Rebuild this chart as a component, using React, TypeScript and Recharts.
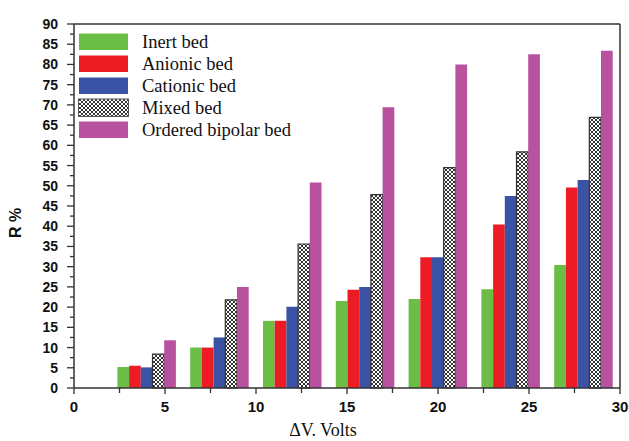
import { BarChart, Bar, XAxis, YAxis, ReferenceLine } from "recharts";

// ΔV group positions (volts) and R % per bed type
const voltages = [4, 8, 12, 16, 20, 24, 28];
const inertBed = [5.2, 10, 16.6, 21.5, 22, 24.4, 30.4];
const anionicBed = [5.5, 10, 16.6, 24.3, 32.3, 40.4, 49.6];
const cationicBed = [5.1, 12.5, 20.1, 25, 32.3, 47.5, 51.4];
const mixedBed = [8.4, 21.8, 35.6, 47.8, 54.5, 58.4, 66.9];
const orderedBed = [11.8, 25, 50.8, 69.4, 80, 82.5, 83.4];

const xMajorTicks = [0, 5, 10, 15, 20, 25, 30];
const yMajorTicks = [0, 5, 10, 15, 20, 25, 30, 35, 40, 45, 50, 55, 60, 65, 70, 75, 80, 85, 90];

const withMinor = (major: number[]) =>
  major.flatMap((v, i) => (i < major.length - 1 ? [v, (v + major[i + 1]) / 2] : [v]));
const xTicks = withMinor(xMajorTicks);
const yTicks = withMinor(yMajorTicks);

const series = [
  { key: "inert", name: "Inert bed", values: inertBed, fill: "#6bbd45" },
  { key: "anionic", name: "Anionic bed", values: anionicBed, fill: "#ed1c24" },
  { key: "cationic", name: "Cationic bed", values: cationicBed, fill: "#3a53a4" },
  { key: "mixed", name: "Mixed bed", values: mixedBed, fill: "url(#mixedHatch)" },
  { key: "ordered", name: "Ordered bipolar bed", values: orderedBed, fill: "#b8529e" },
];

const data = voltages.map((v, i) => {
  const row: Record<string, number> = { v };
  series.forEach((s) => (row[s.key] = s.values[i]));
  return row;
});

const AXIS = "#333";
const tickFont = { fontFamily: "'Liberation Sans', Arial, sans-serif", fontWeight: 700 };

function XTick({ x, y, payload }: any) {
  const major = payload.value % 5 === 0;
  return (
    <g>
      <line x1={x} x2={x} y1={y} y2={y + (major ? 6 : 5)} stroke={AXIS} strokeWidth={1.3} />
      {major && (
        <text x={x} y={y + 23.5} textAnchor="middle" fontSize={15} fill="#111" style={tickFont}>
          {payload.value}
        </text>
      )}
    </g>
  );
}

function YTick({ x, y, payload }: any) {
  const major = payload.value % 5 === 0;
  return (
    <g>
      <line x1={x - (major ? 7 : 4)} x2={x} y1={y} y2={y} stroke={AXIS} strokeWidth={1.3} />
      {major && (
        <text x={x - 16} y={y + 5} textAnchor="end" fontSize={14} fill="#111" style={tickFont}>
          {payload.value}
        </text>
      )}
    </g>
  );
}

function HatchDef({ id }: { id: string }) {
  return (
    <pattern id={id} patternUnits="userSpaceOnUse" width="4" height="4">
      <rect width="4" height="4" fill="#fff" />
      <path d="M0 0L4 4M4 0L0 4" stroke="#333" strokeWidth="1" />
    </pattern>
  );
}

export default function App() {
  return (
    <div style={{ position: "absolute", left: 0, top: 0, width: 629, height: 441, background: "#fff" }}>
      <BarChart
        width={629}
        height={441}
        data={data}
        margin={{ top: 24, right: 9, left: 0, bottom: 0 }}
        barGap={0}
      >
        <defs>
          <HatchDef id="mixedHatch" />
        </defs>
        <XAxis
          type="number"
          dataKey="v"
          domain={[0, 30]}
          allowDataOverflow
          ticks={xTicks}
          interval={0}
          tickSize={0}
          tickMargin={0}
          tick={<XTick />}
          height={53}
          stroke={AXIS}
          strokeWidth={1.5}
        />
        <YAxis
          type="number"
          domain={[0, 90]}
          ticks={yTicks}
          interval={0}
          tickSize={0}
          tickMargin={0}
          tick={<YTick />}
          width={74}
          stroke={AXIS}
          strokeWidth={1.5}
        />
        {series.map((s) => (
          <Bar
            key={s.key}
            dataKey={s.key}
            name={s.name}
            fill={s.fill}
            barSize={11.7}
            stroke={s.key === "mixed" ? "#333" : "none"}
            strokeWidth={s.key === "mixed" ? 1.2 : 0}
            isAnimationActive={false}
          />
        ))}
        <ReferenceLine y={90} stroke={AXIS} strokeWidth={1.5} />
        <ReferenceLine x={30} stroke={AXIS} strokeWidth={1.5} />
      </BarChart>

      <svg
        width={629}
        height={441}
        style={{ position: "absolute", left: 0, top: 0, pointerEvents: "none" }}
      >
        <defs>
          <HatchDef id="legendHatch" />
        </defs>
        {series.map((s, i) => (
          <g key={s.key}>
            <rect
              x={78.5}
              y={33 + i * 22}
              width={50}
              height={17.5}
              fill={s.key === "mixed" ? "url(#legendHatch)" : s.fill}
              stroke={s.key === "mixed" ? "#555" : "#fff"}
              strokeWidth={1}
            />
            <text
              x={142}
              y={47.5 + i * 22}
              fontSize={18.5}
              fontFamily="'Liberation Serif', 'Times New Roman', serif"
              fill="#111"
            >
              {s.name}
            </text>
          </g>
        ))}
        <text
          x={15}
          y={223}
          transform="rotate(-90 15 223)"
          textAnchor="middle"
          dominantBaseline="central"
          fontSize={16}
          fontFamily="'Liberation Sans', Arial, sans-serif"
          fontWeight={700}
          fill="#111"
        >
          R %
        </text>
        <text
          x={323}
          y={436}
          textAnchor="middle"
          fontSize={18}
          fontFamily="'Liberation Serif', 'Times New Roman', serif"
          fill="#111"
        >
          ΔV. Volts
        </text>
      </svg>
    </div>
  );
}
